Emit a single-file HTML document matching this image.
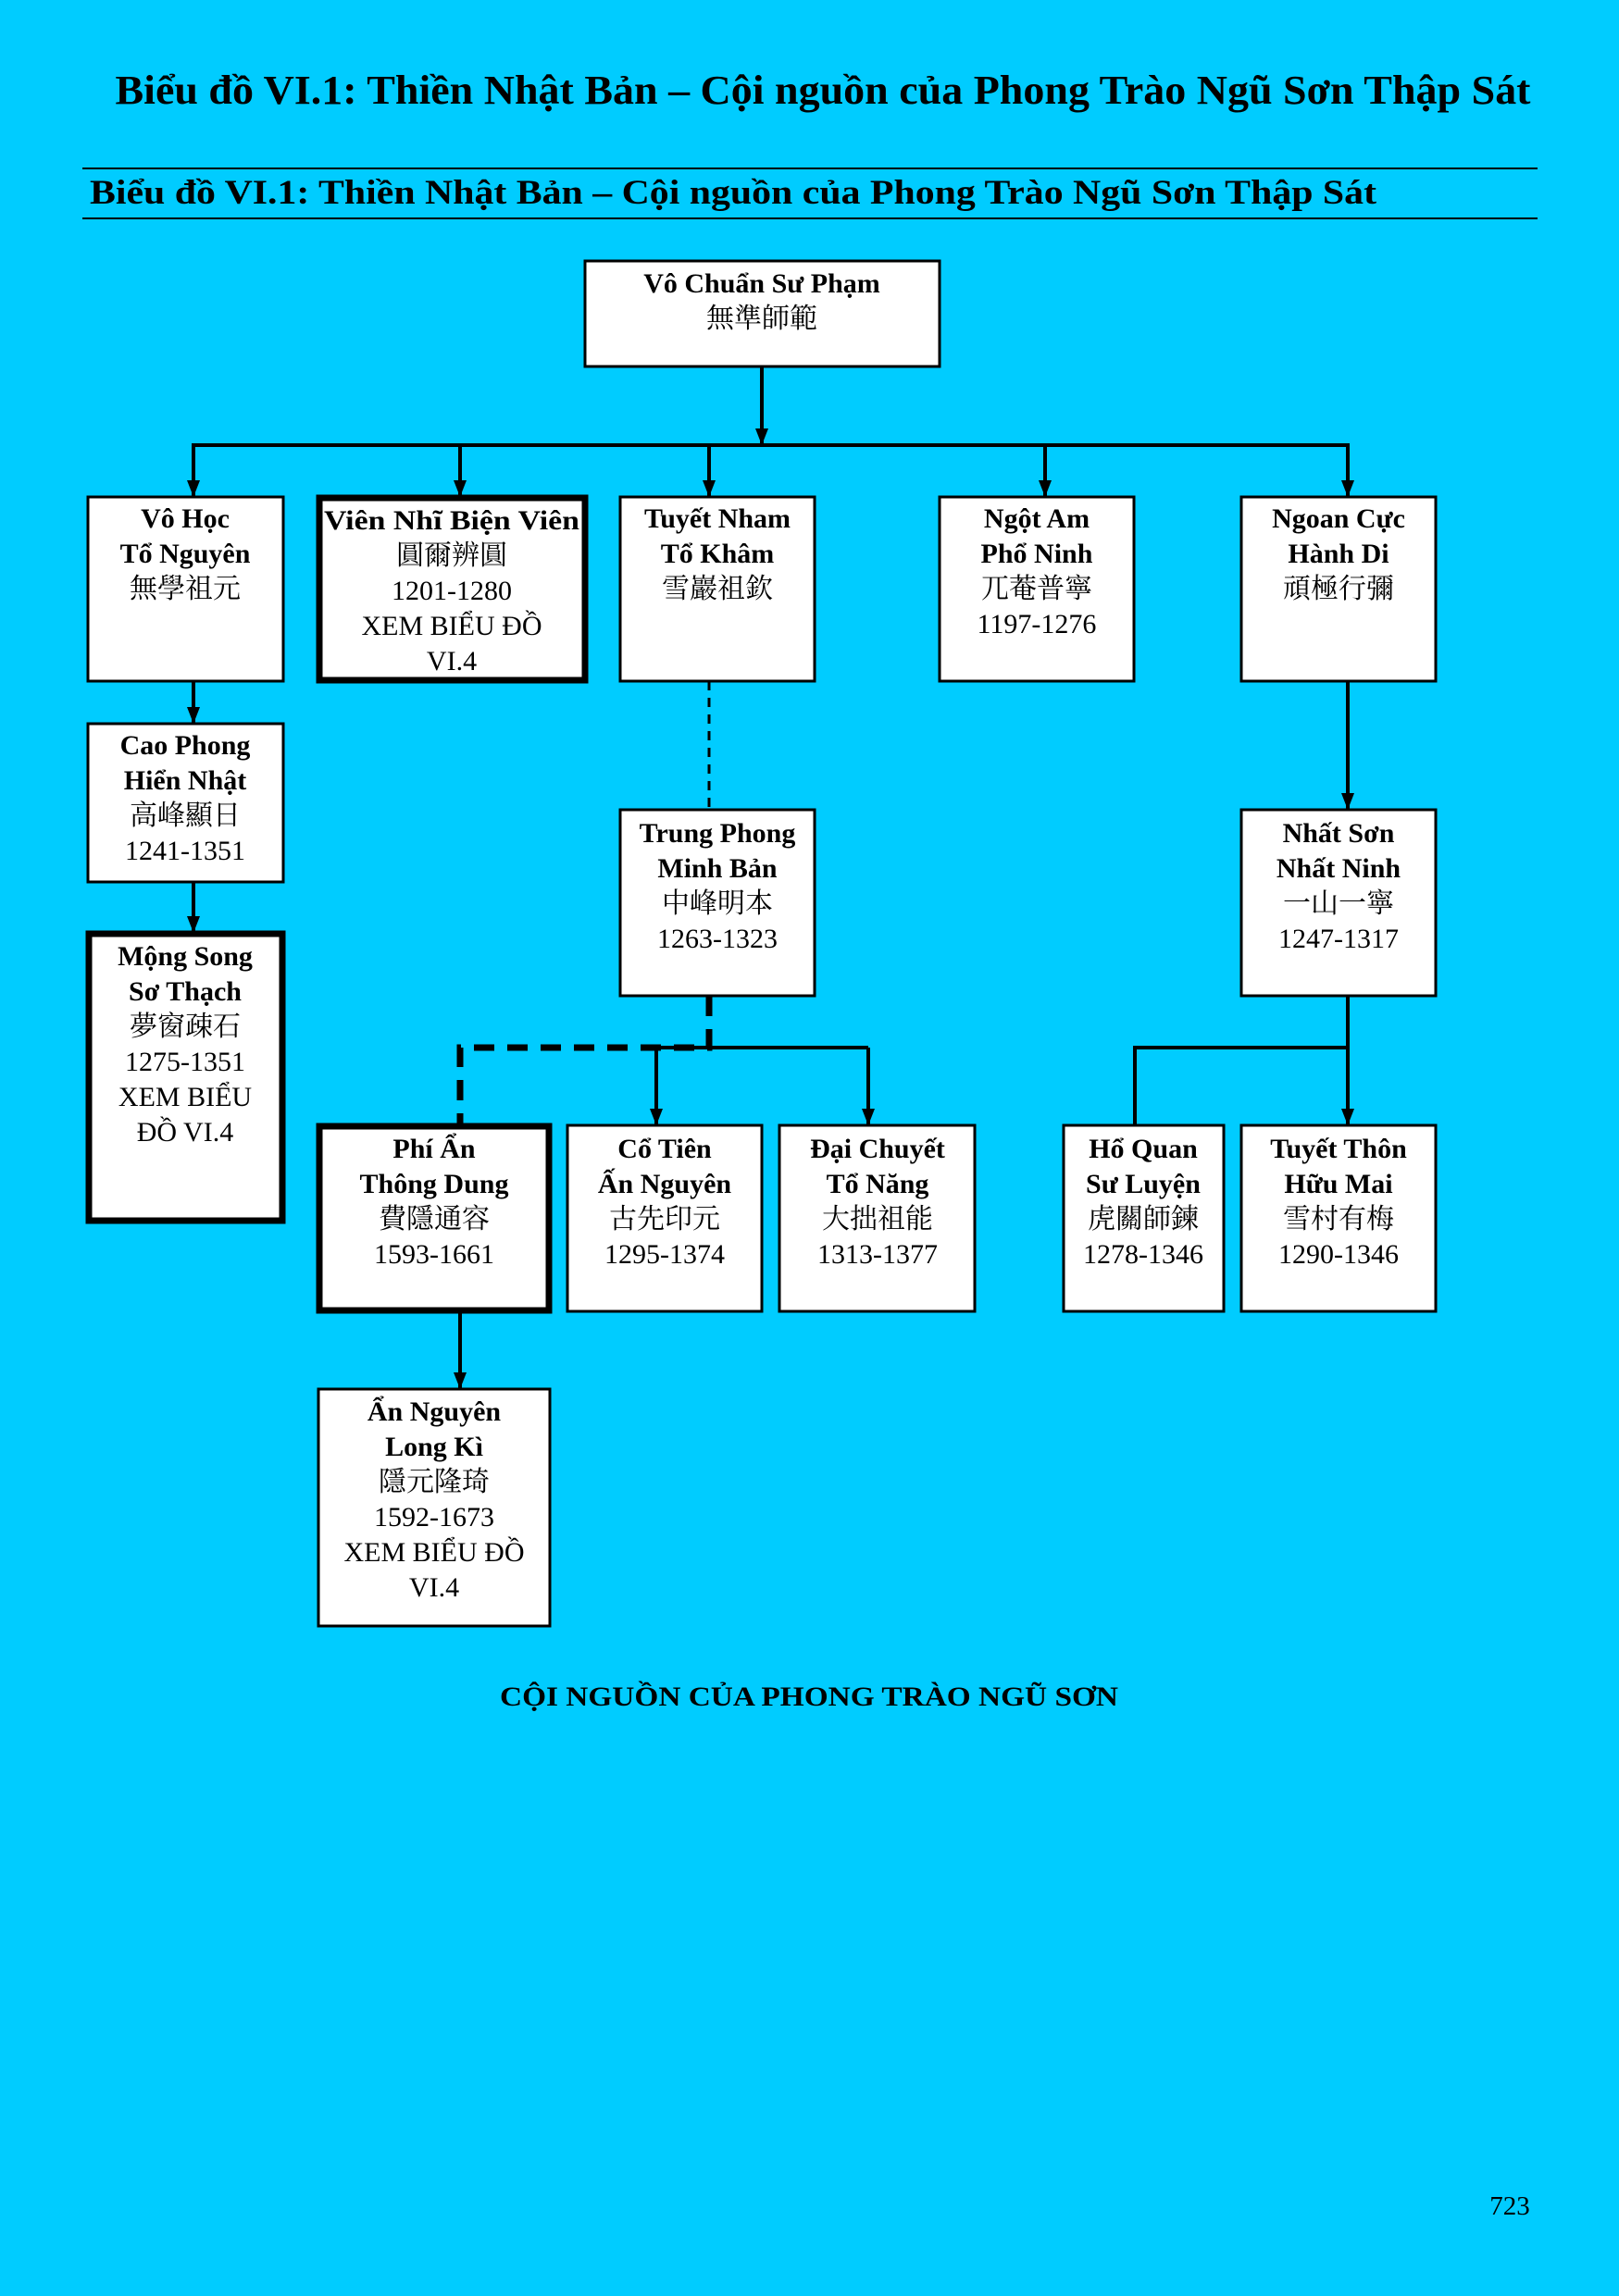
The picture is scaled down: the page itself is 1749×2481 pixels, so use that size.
<!DOCTYPE html>
<html><head><meta charset="utf-8"><style>
html,body{margin:0;padding:0;background:#00CCFF;}
svg{display:block;}
text{font-family:"Liberation Serif","Noto Serif CJK SC","Noto Sans CJK TC",serif;fill:#000;}
.b{font-weight:bold;}
</style></head><body>
<svg width="1749" height="2481" viewBox="0 0 1749 2481" xmlns="http://www.w3.org/2000/svg">
<defs><marker id="a" markerWidth="8" markerHeight="8" refX="4" refY="7" orient="auto" markerUnits="userSpaceOnUse" viewBox="0 0 8 8"><path d="M0,0 L8,0 L4,8 Z" fill="#000"/></marker>
<marker id="ar" markerWidth="14" markerHeight="18" refX="7" refY="18" orient="0" markerUnits="userSpaceOnUse" viewBox="0 0 14 18"><path d="M0,0 L14,0 L7,18 Z" fill="#000"/></marker></defs>
<rect width="1749" height="2481" fill="#00CCFF"/>
<text class="b" x="889" y="112" font-size="44" text-anchor="middle" textLength="1529" lengthAdjust="spacingAndGlyphs">Biểu đồ VI.1: Thiền Nhật Bản – Cội nguồn của Phong Trào Ngũ Sơn Thập Sát</text>
<line x1="89" y1="182" x2="1661" y2="182" stroke="#000" stroke-width="2"/>
<line x1="89" y1="236" x2="1661" y2="236" stroke="#000" stroke-width="2"/>
<text class="b" x="97" y="220" font-size="37" textLength="1390" lengthAdjust="spacingAndGlyphs">Biểu đồ VI.1: Thiền Nhật Bản – Cội nguồn của Phong Trào Ngũ Sơn Thập Sát</text>

<g stroke="#000" stroke-width="4" fill="none">
<line x1="823" y1="396" x2="823" y2="481" marker-end="url(#ar)"/>
<line x1="207" y1="481" x2="1458" y2="481"/>
<line x1="209" y1="481" x2="209" y2="537" marker-end="url(#ar)"/>
<line x1="497" y1="481" x2="497" y2="537" marker-end="url(#ar)"/>
<line x1="766" y1="481" x2="766" y2="537" marker-end="url(#ar)"/>
<line x1="1129" y1="481" x2="1129" y2="537" marker-end="url(#ar)"/>
<line x1="1456" y1="481" x2="1456" y2="537" marker-end="url(#ar)"/>
<line x1="209" y1="736" x2="209" y2="782" marker-end="url(#ar)"/>
<line x1="209" y1="953" x2="209" y2="1008" marker-end="url(#ar)"/>
<line x1="766" y1="736" x2="766" y2="875" stroke-width="3" stroke-dasharray="10,8"/>
<line x1="1456" y1="736" x2="1456" y2="875" marker-end="url(#ar)"/>
<line x1="709" y1="1132" x2="938" y2="1132"/>
<line x1="709" y1="1132" x2="709" y2="1216" marker-end="url(#ar)"/>
<line x1="938" y1="1132" x2="938" y2="1216" marker-end="url(#ar)"/>
<path d="M766,1076 L766,1132 L497,1132 L497,1216" stroke-width="7" stroke-dasharray="22,14"/>
<line x1="1456" y1="1076" x2="1456" y2="1216" marker-end="url(#ar)"/>
<path d="M1456,1132 L1226,1132 L1226,1216"/>
<line x1="497" y1="1417" x2="497" y2="1501" marker-end="url(#ar)"/>
</g>

<g fill="#fff" stroke="#000">
<rect x="632" y="282" width="383" height="114" stroke-width="3"/>
<rect x="95" y="537" width="211" height="199" stroke-width="3"/>
<rect x="345" y="538" width="287" height="197" stroke-width="7"/>
<rect x="670" y="537" width="210" height="199" stroke-width="3"/>
<rect x="1015" y="537" width="210" height="199" stroke-width="3"/>
<rect x="1341" y="537" width="210" height="199" stroke-width="3"/>
<rect x="95" y="782" width="211" height="171" stroke-width="3"/>
<rect x="96" y="1009" width="209" height="310" stroke-width="7"/>
<rect x="670" y="875" width="210" height="201" stroke-width="3"/>
<rect x="1341" y="875" width="210" height="201" stroke-width="3"/>
<rect x="345" y="1217" width="248" height="199" stroke-width="7"/>
<rect x="613" y="1216" width="210" height="201" stroke-width="3"/>
<rect x="842" y="1216" width="211" height="201" stroke-width="3"/>
<rect x="1149" y="1216" width="173" height="201" stroke-width="3"/>
<rect x="1341" y="1216" width="210" height="201" stroke-width="3"/>
<rect x="344" y="1501" width="250" height="256" stroke-width="3"/>
</g>

<g font-size="30" text-anchor="middle">
<text class="b" x="823" y="316">Vô Chuẩn Sư Phạm</text><text x="823" y="354">無準師範</text>

<text class="b" x="200" y="570">Vô Học</text><text class="b" x="200" y="608">Tổ Nguyên</text><text x="200" y="646">無學祖元</text>

<text class="b" x="488" y="572" textLength="276" lengthAdjust="spacingAndGlyphs">Viên Nhĩ Biện Viên</text><text x="488" y="610">圓爾辨圓</text><text x="488" y="648">1201-1280</text><text x="488" y="686">XEM BIỂU ĐỒ</text><text x="488" y="724">VI.4</text>

<text class="b" x="775" y="570">Tuyết Nham</text><text class="b" x="775" y="608">Tổ Khâm</text><text x="775" y="646">雪巖祖欽</text>

<text class="b" x="1120" y="570">Ngột Am</text><text class="b" x="1120" y="608">Phổ Ninh</text><text x="1120" y="646">兀菴普寧</text><text x="1120" y="684">1197-1276</text>

<text class="b" x="1446" y="570">Ngoan Cực</text><text class="b" x="1446" y="608">Hành Di</text><text x="1446" y="646">頑極行彌</text>

<text class="b" x="200" y="815">Cao Phong</text><text class="b" x="200" y="853">Hiển Nhật</text><text x="200" y="891">高峰顯日</text><text x="200" y="929">1241-1351</text>

<text class="b" x="200" y="1043">Mộng Song</text><text class="b" x="200" y="1081">Sơ Thạch</text><text x="200" y="1119">夢窗疎石</text><text x="200" y="1157">1275-1351</text><text x="200" y="1195">XEM BIỂU</text><text x="200" y="1233">ĐỒ VI.4</text>

<text class="b" x="775" y="910">Trung Phong</text><text class="b" x="775" y="948">Minh Bản</text><text x="775" y="986">中峰明本</text><text x="775" y="1024">1263-1323</text>

<text class="b" x="1446" y="910">Nhất Sơn</text><text class="b" x="1446" y="948">Nhất Ninh</text><text x="1446" y="986">一山一寧</text><text x="1446" y="1024">1247-1317</text>

<text class="b" x="469" y="1251">Phí Ẩn</text><text class="b" x="469" y="1289">Thông Dung</text><text x="469" y="1327">費隱通容</text><text x="469" y="1365">1593-1661</text>

<text class="b" x="718" y="1251">Cổ Tiên</text><text class="b" x="718" y="1289">Ấn Nguyên</text><text x="718" y="1327">古先印元</text><text x="718" y="1365">1295-1374</text>

<text class="b" x="948" y="1251">Đại Chuyết</text><text class="b" x="948" y="1289">Tổ Năng</text><text x="948" y="1327">大拙祖能</text><text x="948" y="1365">1313-1377</text>

<text class="b" x="1235" y="1251">Hổ Quan</text><text class="b" x="1235" y="1289">Sư Luyện</text><text x="1235" y="1327">虎關師鍊</text><text x="1235" y="1365">1278-1346</text>

<text class="b" x="1446" y="1251">Tuyết Thôn</text><text class="b" x="1446" y="1289">Hữu Mai</text><text x="1446" y="1327">雪村有梅</text><text x="1446" y="1365">1290-1346</text>

<text class="b" x="469" y="1535">Ẩn Nguyên</text><text class="b" x="469" y="1573">Long Kì</text><text x="469" y="1611">隱元隆琦</text><text x="469" y="1649">1592-1673</text><text x="469" y="1687">XEM BIỂU ĐỒ</text><text x="469" y="1725">VI.4</text>
</g>

<text class="b" x="874" y="1843" font-size="30" text-anchor="middle" textLength="668" lengthAdjust="spacingAndGlyphs">CỘI NGUỒN CỦA PHONG TRÀO NGŨ SƠN</text>
<text x="1631" y="2393" font-size="29" text-anchor="middle">723</text>
</svg>
</body></html>
